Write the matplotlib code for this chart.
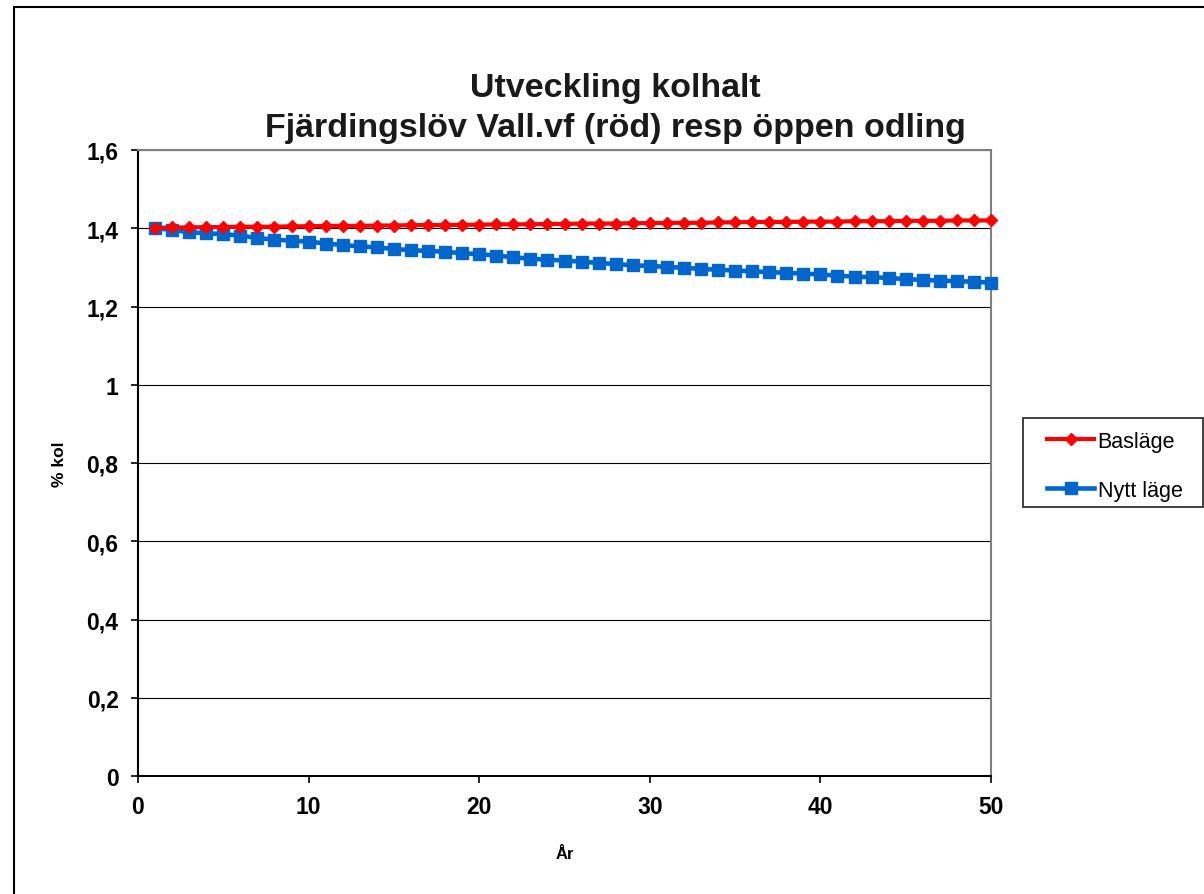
import matplotlib
matplotlib.use("Agg")
import matplotlib.pyplot as plt
from matplotlib.patches import Rectangle
from matplotlib.ticker import FuncFormatter

plt.rcParams['font.family'] = ['Liberation Sans', 'DejaVu Sans']

years = list(range(1, 51))
baslage = [1.401, 1.402, 1.402, 1.403, 1.403, 1.404, 1.404, 1.404, 1.405, 1.405,
           1.406, 1.406, 1.406, 1.407, 1.407, 1.408, 1.408, 1.408, 1.409, 1.409,
           1.410, 1.410, 1.410, 1.411, 1.411, 1.412, 1.412, 1.412, 1.413, 1.413,
           1.414, 1.414, 1.414, 1.415, 1.415, 1.416, 1.416, 1.416, 1.417, 1.417,
           1.417, 1.418, 1.418, 1.418, 1.419, 1.419, 1.419, 1.420, 1.420, 1.420]
nytt_lage = [1.400, 1.396, 1.390, 1.387, 1.385, 1.381, 1.375, 1.371, 1.368, 1.366,
             1.361, 1.357, 1.354, 1.351, 1.347, 1.344, 1.342, 1.340, 1.336, 1.334,
             1.330, 1.326, 1.322, 1.320, 1.317, 1.315, 1.311, 1.309, 1.305, 1.304,
             1.301, 1.299, 1.296, 1.294, 1.292, 1.290, 1.288, 1.286, 1.284, 1.282,
             1.279, 1.276, 1.275, 1.273, 1.270, 1.268, 1.266, 1.265, 1.263, 1.261]

y_ticks = [0, 0.2, 0.4, 0.6, 0.8, 1.0, 1.2, 1.4, 1.6]
x_ticks = [0, 10, 20, 30, 40, 50]

W, H = 1204, 895
fig = plt.figure(figsize=(W / 100, H / 100), dpi=100)
ax = fig.add_axes([138 / W, 1 - 777 / H, (991 - 138) / W, (777 - 151) / H])

# outer chart frame (runs off the right and bottom edges)
fig.patches.append(Rectangle((14 / W, -0.1), 1.2, 0.1 + 1 - 8 / H,
                             transform=fig.transFigure, fill=False,
                             edgecolor='black', linewidth=1.5))

ax.plot(years, nytt_lage, color='#0066CC', lw=3.3, marker='s', ms=9,
        label='Nytt läge', clip_on=False, zorder=3)
ax.plot(years, baslage, color='#FF0000', lw=3, marker='D', ms=6.5,
        label='Basläge', clip_on=False, zorder=4)

ax.set_xlim(0, 50)
ax.set_ylim(0, 1.6)
ax.set_xticks(x_ticks)
ax.set_yticks(y_ticks)

def comma(v, pos):
    s = ('%.1f' % v).rstrip('0').rstrip('.')
    return s.replace('.', ',')

ax.yaxis.set_major_formatter(FuncFormatter(comma))
ax.grid(axis='y', color='black', lw=0.8)
ax.set_axisbelow(True)

for side in ['top', 'right']:
    ax.spines[side].set_color('#808080')
    ax.spines[side].set_linewidth(1.5)
for side in ['left', 'bottom']:
    ax.spines[side].set_linewidth(1.5)

ax.tick_params(direction='out', length=5, width=1.2, pad=9)
for lab in ax.get_xticklabels() + ax.get_yticklabels():
    lab.set_fontsize(16.5)
    lab.set_fontweight('bold')

ax.set_xlabel('År', fontsize=12, fontweight='bold', labelpad=20)
ax.set_ylabel('% kol', fontsize=12.5, fontweight='bold', labelpad=14)

fig.text(0.511, 1 - 89 / H, 'Utveckling kolhalt', ha='center', va='center',
         fontsize=24.5, fontweight='bold', color='#1a1a1a')
fig.text(0.511, 1 - 128 / H, 'Fjärdingslöv Vall.vf (röd) resp öppen odling',
         ha='center', va='center', fontsize=24.5, fontweight='bold', color='#1a1a1a')

# legend box
fig.patches.append(Rectangle((1023 / W, 1 - 508 / H), 180 / W, 89 / H,
                             transform=fig.transFigure, fill=False,
                             edgecolor='#333333', linewidth=1.3, zorder=5))
handles, labels = ax.get_legend_handles_labels()
leg = ax.legend(handles[::-1], labels[::-1], loc='upper left',
                bbox_to_anchor=(1047 / W, 1 - 432 / H),
                bbox_transform=fig.transFigure, frameon=False,
                fontsize=15.5, handlelength=2.2, handletextpad=0.15,
                borderpad=0, borderaxespad=0, labelspacing=1.3)

fig.savefig('out.png', dpi=100)
